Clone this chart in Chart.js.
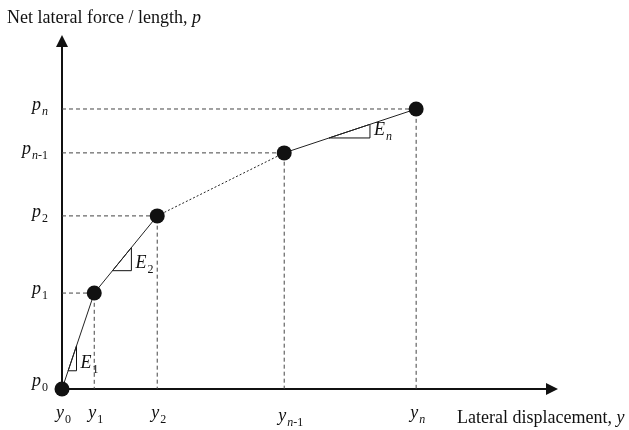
<!DOCTYPE html>
<html>
<head>
<meta charset="utf-8">
<script src="https://cdn.jsdelivr.net/npm/chart.js@4.4.0/dist/chart.umd.min.js"></script>
<style>
  body { margin: 0; background: #fff; }
  #wrap { width: 629px; height: 430px; }
</style>
</head>
<body>
<div id="wrap"><canvas id="grafico" width="629" height="430"></canvas></div>
<script>
// Datos de la curva p-y (unidades arbitrarias)
const subIndices = ['0', '1', '2', 'n-1', 'n'];
const desplazamientos = [0, 0.65, 1.92, 4.48, 7.14];
const fuerzas = [0, 2.71, 4.89, 6.67, 7.91];
const tramosPunteados = [2];            // tramo entre p2 y p(n-1)
const pendientes = ['1', '2', null, 'n']; // E por tramo

// Triángulos de pendiente: fracción del tramo donde empieza / termina
const triTramo = [[0.19, 0.45], [0.29, 0.59], null, [0.34, 0.65]];

const SERIF = '"Liberation Serif", "DejaVu Serif", serif';
const NEGRO = '#111';

const puntos = desplazamientos.map((x, i) => ({ x, y: fuerzas[i] }));

// Líneas guía discontinuas hasta los ejes
const guias = puntos.slice(1).map(p => ({
  data: [{ x: 0, y: p.y }, { x: p.x, y: p.y }, { x: p.x, y: 0 }],
  showLine: true,
  borderColor: '#444',
  borderWidth: 1,
  borderDash: [4, 3],
  pointRadius: 0,
  clip: false
}));

// Triángulos de pendiente sobre cada tramo
const triangulos = [];
triTramo.forEach((t, i) => {
  if (!t) return;
  const a = puntos[i], b = puntos[i + 1];
  const at = k => ({ x: a.x + (b.x - a.x) * k, y: a.y + (b.y - a.y) * k });
  const p0 = at(t[0]), p1 = at(t[1]);
  triangulos.push({
    data: [p0, { x: p1.x, y: p0.y }, p1, p0],
    showLine: true,
    borderColor: NEGRO,
    borderWidth: 1,
    pointRadius: 0,
    clip: false
  });
});

// Dibuja texto con subíndice (letras en cursiva, números rectos)
function textoSub(ctx, base, sub, x, y, size, align) {
  const sz = Math.round(size * 0.68);
  ctx.font = `italic ${size}px ${SERIF}`;
  const wb = ctx.measureText(base).width;
  let ws = 0;
  for (const ch of sub) {
    ctx.font = (/[a-z]/i.test(ch) ? 'italic ' : '') + `${sz}px ${SERIF}`;
    ws += ctx.measureText(ch).width;
  }
  let cx = align === 'right' ? x - wb - ws - 1 : x;
  ctx.font = `italic ${size}px ${SERIF}`;
  ctx.fillText(base, cx, y);
  cx += wb + 1;
  for (const ch of sub) {
    ctx.font = (/[a-z]/i.test(ch) ? 'italic ' : '') + `${sz}px ${SERIF}`;
    ctx.fillText(ch, cx, y + 5);
    cx += ctx.measureText(ch).width;
  }
}

const ejesPlugin = {
  id: 'ejes',
  beforeDatasetsDraw(chart) {
    const { ctx, chartArea: a } = chart;
    ctx.save();
    ctx.strokeStyle = NEGRO;
    ctx.fillStyle = NEGRO;
    ctx.lineWidth = 2;
    ctx.beginPath();
    ctx.moveTo(a.left, a.top + 10);
    ctx.lineTo(a.left, a.bottom);
    ctx.lineTo(a.right - 10, a.bottom);
    ctx.stroke();
    ctx.beginPath();
    ctx.moveTo(a.left, a.top);
    ctx.lineTo(a.left - 6, a.top + 12);
    ctx.lineTo(a.left + 6, a.top + 12);
    ctx.closePath();
    ctx.fill();
    ctx.beginPath();
    ctx.moveTo(a.right, a.bottom);
    ctx.lineTo(a.right - 12, a.bottom - 6);
    ctx.lineTo(a.right - 12, a.bottom + 6);
    ctx.closePath();
    ctx.fill();
    ctx.restore();
  },
  afterDatasetsDraw(chart) {
    const { ctx, chartArea: a, scales } = chart;
    const sx = scales.x, sy = scales.y;
    ctx.save();
    ctx.fillStyle = NEGRO;
    ctx.textBaseline = 'alphabetic';

    // Títulos de ejes
    ctx.font = `18px ${SERIF}`;
    const t1 = 'Net lateral force / length, ';
    ctx.fillText(t1, 7, 23);
    const w1 = ctx.measureText(t1).width;
    ctx.font = `italic 18px ${SERIF}`;
    ctx.fillText('p', 7 + w1, 23);

    ctx.font = `18px ${SERIF}`;
    const t2 = 'Lateral displacement, ';
    ctx.fillText(t2, 457, 423);
    const w2 = ctx.measureText(t2).width;
    ctx.font = `italic 18px ${SERIF}`;
    ctx.fillText('y', 457 + w2, 423);

    // Etiquetas p_i y y_i
    subIndices.forEach((s, i) => {
      const py = sy.getPixelForValue(fuerzas[i]);
      const px = sx.getPixelForValue(desplazamientos[i]);
      textoSub(ctx, 'p', s, a.left - 14, (i === 0 ? py - 4 : py) + 1, 18, 'right');
      textoSub(ctx, 'y', s, px - 6, a.bottom + 29 + (s === 'n-1' ? 3 : 0), 18, 'left');
    });

    // Etiquetas E_i junto a los triángulos
    let k = 0;
    triTramo.forEach((t, i) => {
      if (!t) return;
      const d = triangulos[k++].data;
      const bx = sx.getPixelForValue(d[1].x);
      const by = sy.getPixelForValue(d[1].y);
      textoSub(ctx, 'E', pendientes[i], bx + 4, by - 3, 18, 'left');
    });
    ctx.restore();
  }
};

new Chart(document.getElementById('grafico'), {
  type: 'scatter',
  data: {
    datasets: [
      {
        data: puntos,
        showLine: true,
        borderColor: '#222',
        borderWidth: 1,
        pointRadius: 7.5,
        pointBackgroundColor: NEGRO,
        pointBorderWidth: 0,
        clip: false,
        segment: {
          borderDash: c => tramosPunteados.includes(c.p0DataIndex) ? [2, 2] : undefined
        }
      },
      ...triangulos,
      ...guias
    ]
  },
  options: {
    responsive: false,
    animation: false,
    layout: { padding: { left: 62, right: 71, top: 35, bottom: 41 } },
    plugins: { legend: { display: false }, tooltip: { enabled: false } },
    scales: {
      x: { type: 'linear', min: 0, max: 10, display: false },
      y: { type: 'linear', min: 0, max: 10, display: false }
    }
  },
  plugins: [ejesPlugin]
});
</script>
</body>
</html>
